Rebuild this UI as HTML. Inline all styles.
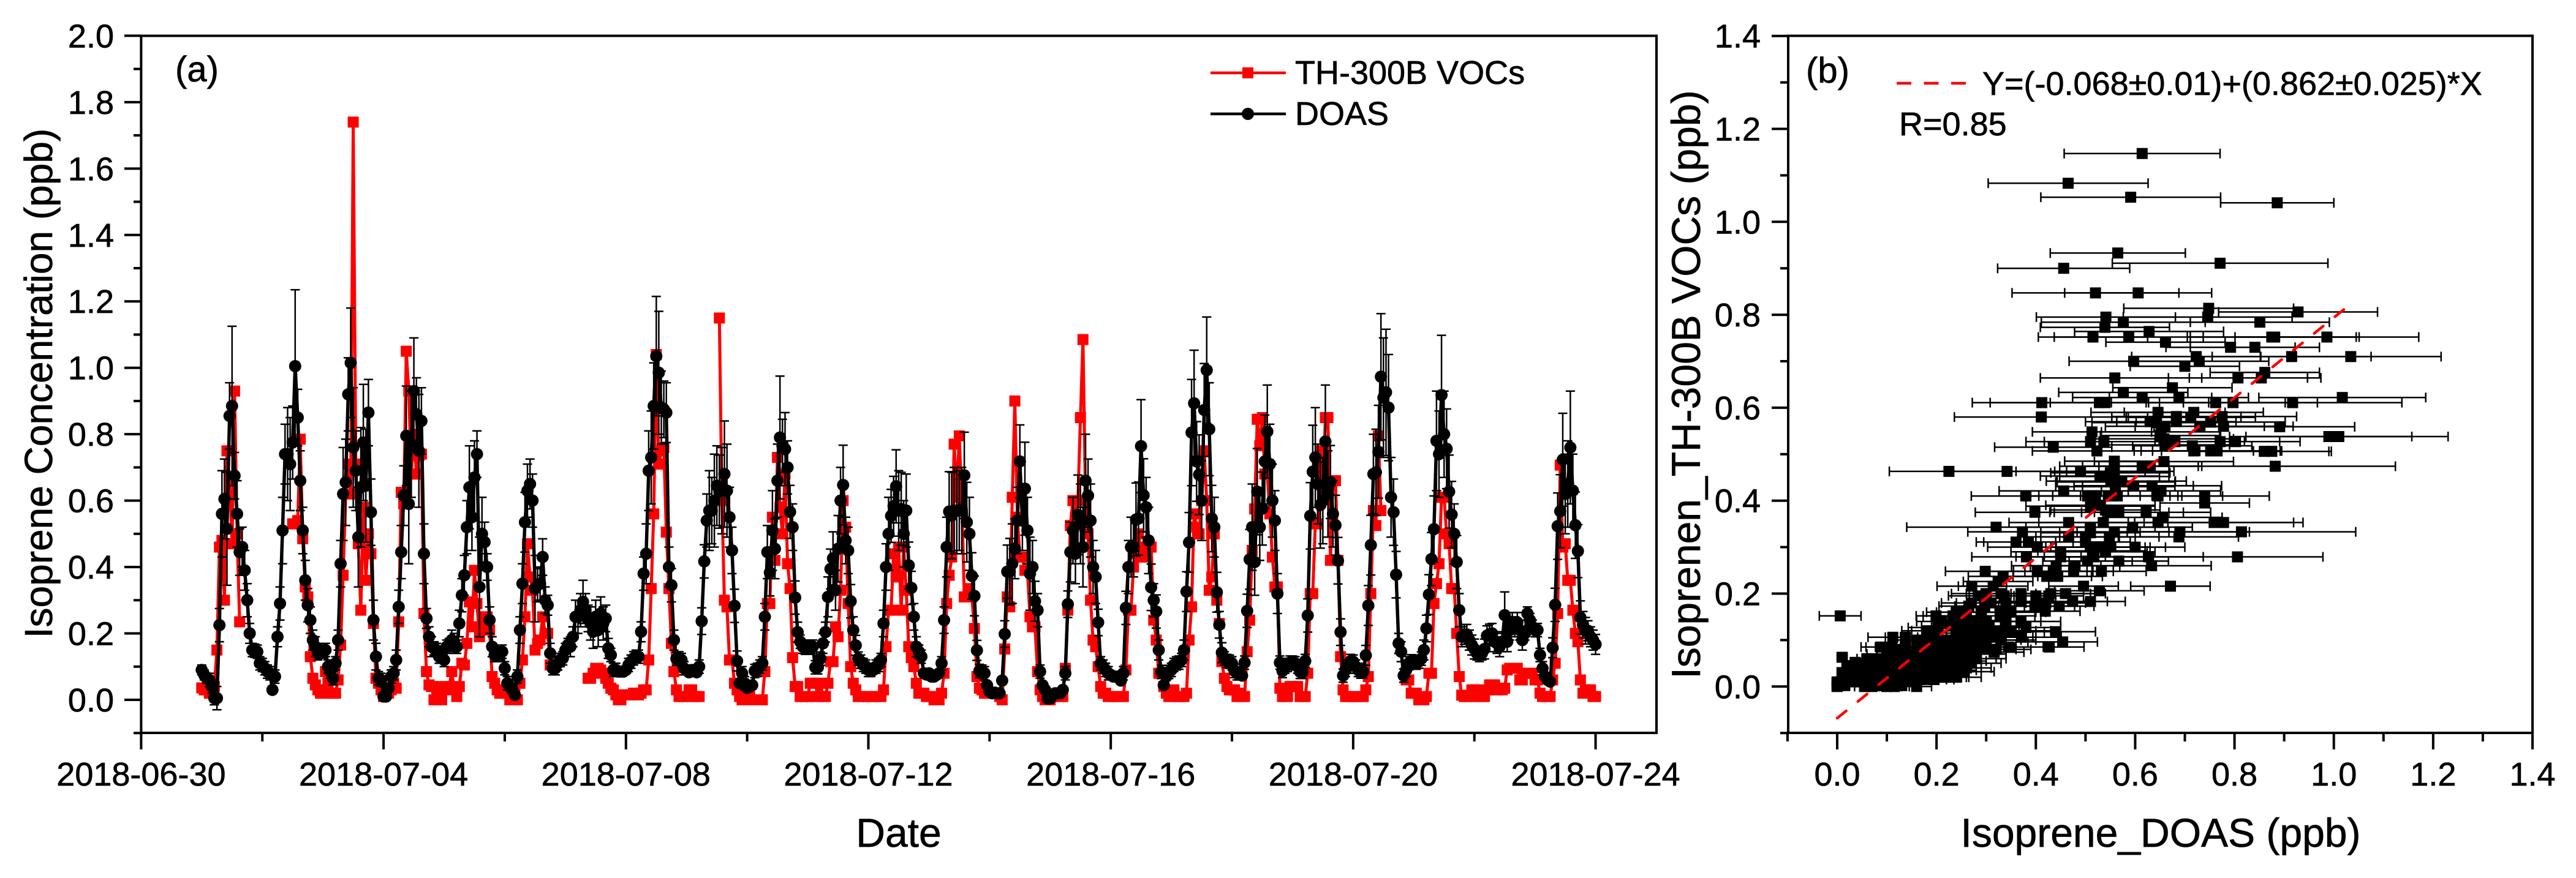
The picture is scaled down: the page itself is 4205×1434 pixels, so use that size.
<!DOCTYPE html>
<html>
<head>
<meta charset="utf-8">
<title>Isoprene comparison</title>
<style>
html,body{margin:0;padding:0;background:#fff}
svg{display:block}
text{font-family:"Liberation Sans",sans-serif;fill:#000;stroke:#000;stroke-width:0.7px}
.tick{font-size:54px}
.title{font-size:66px}
.note{font-size:54px}
</style>
</head>
<body>
<svg id="figure" xmlns="http://www.w3.org/2000/svg" width="4205" height="1434" viewBox="0 0 4205 1434">
<g id="panel-a">
  <rect x="230.4" y="58.5" width="2473.6" height="1138.5" fill="#fff"/>
  <g id="a-red"></g>
  <g id="a-black"></g>
  <rect x="230.4" y="58.5" width="2473.6" height="1138.5" fill="none" stroke="#000" stroke-width="4"/>
  <g id="a-ticks"></g>
  <text x="286" y="133" style="font-size:58px">(a)</text>
  <text x="1467" y="1383" class="title" text-anchor="middle">Date</text>
  <text transform="translate(85,626) rotate(-90)" text-anchor="middle" style="font-size:64px">Isoprene Concentration (ppb)</text>
  <g>
    <line x1="1976" y1="119" x2="2099" y2="119" stroke="#f00" stroke-width="4.5"/>
    <rect x="2028" y="110" width="18" height="18" fill="#f00"/>
    <text x="2114" y="137" class="note">TH-300B VOCs</text>
    <line x1="1976" y1="186" x2="2099" y2="186" stroke="#000" stroke-width="4.5"/>
    <circle cx="2037" cy="186" r="10" fill="#000"/>
    <text x="2114" y="204" class="note">DOAS</text>
  </g>
</g>
<g id="panel-b">
  <g id="b-errors"></g>
  <g id="b-points"></g>
  <line id="fit-line" stroke="#f00" stroke-width="4.5" stroke-linecap="round" stroke-dasharray="19 24.5"/>
  <rect x="2919" y="58.5" width="1215" height="1138.5" fill="none" stroke="#000" stroke-width="4"/>
  <g id="b-ticks"></g>
  <text x="2948" y="135" style="font-size:58px">(b)</text>
  <line x1="3096" y1="136" x2="3209" y2="136" stroke="#f00" stroke-width="4.5" stroke-dasharray="24 20.5"/>
  <text x="3236" y="155" class="note">Y=(-0.068±0.01)+(0.862±0.025)*X</text>
  <text x="3100" y="221" class="note">R=0.85</text>
  <text x="3527" y="1383" class="title" text-anchor="middle">Isoprene_DOAS (ppb)</text>
  <text transform="translate(2775,628) rotate(-90)" class="title" text-anchor="middle">Isoprenen_TH-300B VOCs (ppb)</text>
</g>
</svg>
<script>
const doasValues = [
.09,.075,.065,.06,.04,.005,.005,.225,.56,.605,.515,.855,.885,.675,.56,.445,.46,.39,.30,.20,.15,.148,.145,.11,
.105,.095,.085,.08,.03,.07,.19,.29,.51,.74,.74,.71,.775,1.005,.85,.66,.51,.36,.285,.24,.18,.16,.14,.15,
.145,.15,.10,.085,.065,.11,.18,.41,.62,.655,.92,1.015,.76,.69,.49,.64,.775,.645,.865,.565,.24,.13,.065,.06,
.01,.01,.035,.07,.08,.12,.28,.445,.615,.795,.59,.77,.93,.86,.75,.84,.44,.245,.19,.16,.155,.15,.13,.135,
.12,.16,.165,.18,.17,.16,.23,.315,.375,.52,.64,.55,.67,.74,.34,.50,.475,.40,.24,.16,.135,.135,.14,.145,
.095,.05,.04,.03,.015,.07,.21,.35,.535,.63,.65,.60,.335,.345,.35,.43,.30,.285,.14,.095,.095,.11,.12,.125,
.15,.165,.16,.19,.25,.25,.27,.295,.27,.245,.23,.205,.25,.21,.26,.23,.245,.155,.135,.09,.09,.085,.085,.085,
.09,.105,.115,.125,.13,.13,.205,.38,.44,.69,.73,.885,1.035,.985,.88,.875,.865,.40,.345,.18,.124,.125,.12,.095,
.09,.083,.09,.09,.083,.10,.237,.417,.54,.57,.57,.60,.645,.627,.63,.68,.63,.55,.45,.283,.117,.05,.08,.05,
.036,.04,.044,.087,.09,.10,.11,.25,.445,.383,.51,.455,.66,.79,.765,.755,.70,.566,.52,.308,.204,.175,.16,.157,
.157,.16,.16,.098,.098,.124,.17,.204,.31,.394,.426,.33,.455,.60,.647,.48,.45,.297,.21,.164,.124,.115,.105,.10,
.09,.09,.09,.10,.105,.12,.23,.40,.50,.554,.583,.643,.57,.575,.50,.57,.405,.337,.25,.16,.145,.13,.08,.076,
.08,.07,.07,.075,.08,.11,.24,.46,.567,.555,.57,.57,.57,.57,.676,.535,.50,.373,.313,.149,.087,.085,.08,.044,
.025,.02,.022,.02,.02,.058,.198,.386,.386,.41,.455,.54,.718,.54,.636,.51,.38,.40,.297,.27,.085,.044,.03,.004,
.004,.014,.02,.02,.02,.03,.08,.288,.445,.51,.44,.557,.53,.46,.66,.615,.54,.40,.37,.233,.11,.10,.09,.08,
.075,.07,.07,.07,.058,.08,.277,.40,.46,.46,.543,.546,.764,.616,.58,.48,.339,.30,.266,.15,.084,.044,.07,.084,
.09,.105,.11,.112,.12,.15,.326,.474,.805,.893,.718,.678,.60,.873,.993,.815,.546,.52,.324,.226,.142,.125,.117,.115,
.11,.087,.08,.08,.073,.112,.268,.423,.52,.415,.627,.52,.576,.718,.808,.71,.60,.54,.32,.112,.087,.10,.105,.112,
.112,.11,.10,.084,.084,.117,.254,.554,.687,.73,.65,.587,.60,.778,.62,.656,.56,.526,.419,.204,.073,.09,.10,.117,
.115,.10,.09,.085,.085,.134,.284,.466,.68,.685,.747,.973,.91,.926,.88,.61,.565,.377,.17,.145,.073,.09,.11,.116,
.115,.112,.115,.124,.15,.215,.317,.424,.514,.78,.74,.918,.80,.756,.627,.558,.50,.415,.27,.19,.197,.197,.18,.165,
.153,.14,.135,.14,.153,.193,.198,.20,.175,.17,.16,.175,.255,.175,.21,.233,.22,.233,.21,.18,.20,.26,.24,.22,
.21,.21,.135,.095,.07,.06,.055,.157,.286,.523,.568,.723,.62,.65,.76,.63,.526,.448,.248,.226,.208,.208,.19,.18,
.167];

const doasErrors = [
.015,.015,.015,.02,.02,.02,.035,.05,.13,.12,.17,.10,.24,.07,.10,.07,.06,.06,.05,.03,.02,.02,.02,.02,
.02,.02,.02,.02,.01,.02,.03,.05,.10,.09,.14,.14,.11,.23,.085,.09,.07,.06,.05,.04,.03,.03,.02,.02,
.02,.02,.02,.02,.02,.02,.03,.07,.14,.13,.11,.165,.18,.12,.15,.18,.175,.17,.10,.10,.06,.04,.02,.02,
.01,.01,.01,.02,.02,.03,.05,.08,.09,.15,.18,.16,.16,.11,.17,.10,.09,.03,.03,.03,.02,.02,.02,.02,
.02,.02,.02,.03,.03,.02,.04,.05,.06,.08,.125,.10,.11,.07,.15,.11,.06,.04,.04,.03,.02,.02,.02,.02,
.02,.02,.01,.01,.01,.02,.04,.06,.09,.08,.075,.08,.10,.05,.05,.055,.04,.03,.03,.02,.02,.02,.02,.02,
.02,.02,.03,.03,.05,.05,.05,.065,.05,.04,.05,.05,.05,.05,.05,.05,.04,.03,.02,.02,.02,.01,.01,.01,
.01,.02,.02,.02,.02,.02,.03,.05,.09,.12,.14,.13,.18,.185,.11,.085,.09,.06,.05,.03,.02,.02,.02,.02,
.01,.01,.01,.01,.01,.02,.04,.05,.08,.12,.10,.14,.12,.11,.13,.16,.14,.09,.07,.05,.03,.01,.02,.02,
.01,.01,.01,.02,.02,.02,.02,.04,.08,.07,.12,.09,.11,.185,.08,.11,.08,.08,.07,.05,.03,.02,.02,.02,
.02,.02,.02,.02,.02,.02,.03,.03,.06,.06,.08,.06,.10,.10,.12,.07,.07,.05,.04,.03,.02,.02,.02,.02,
.02,.02,.01,.02,.02,.02,.04,.07,.11,.08,.09,.11,.12,.11,.10,.11,.07,.05,.04,.03,.02,.02,.01,.01,
.01,.01,.01,.01,.01,.02,.04,.09,.12,.13,.13,.13,.12,.13,.13,.12,.11,.07,.06,.03,.02,.02,.02,.01,
.01,.01,.01,.01,.01,.01,.04,.08,.10,.12,.09,.10,.11,.09,.14,.10,.11,.08,.06,.05,.02,.01,.01,.01,
.01,.01,.01,.01,.01,.01,.02,.04,.09,.10,.09,.12,.12,.12,.14,.11,.11,.08,.08,.04,.02,.02,.02,.02,
.01,.01,.01,.01,.01,.02,.05,.08,.09,.09,.11,.11,.14,.11,.09,.10,.07,.05,.05,.03,.02,.01,.01,.02,
.02,.02,.02,.02,.02,.03,.06,.09,.16,.16,.12,.12,.12,.14,.16,.14,.10,.09,.06,.04,.03,.02,.02,.02,
.02,.02,.02,.02,.01,.02,.05,.09,.13,.10,.13,.10,.11,.14,.14,.12,.11,.09,.06,.02,.02,.02,.02,.02,
.02,.02,.02,.02,.02,.02,.05,.10,.14,.15,.12,.13,.13,.17,.13,.11,.10,.09,.07,.04,.02,.02,.02,.02,
.02,.02,.02,.02,.02,.03,.06,.09,.12,.13,.14,.19,.18,.19,.16,.12,.10,.07,.03,.03,.02,.02,.02,.02,
.02,.02,.02,.02,.03,.04,.06,.08,.10,.15,.13,.18,.13,.12,.11,.10,.09,.08,.05,.03,.03,.03,.03,.03,
.03,.02,.02,.02,.03,.03,.03,.03,.03,.03,.03,.03,.07,.03,.03,.03,.03,.03,.03,.03,.02,.02,.02,.02,
.02,.02,.02,.02,.01,.01,.01,.03,.05,.10,.11,.14,.12,.13,.17,.11,.10,.08,.05,.04,.04,.03,.03,.03,
.03];

const thValues = [
.036,.03,.03,.02,.03,.04,.15,.46,.48,.30,.75,.66,.47,.93,.50,.235,null,null,null,null,null,null,null,null,
null,null,null,null,null,null,null,null,null,null,null,null,.53,.53,.54,.785,.485,.34,.31,.13,.065,.045,.03,.02,
.02,.085,.05,.02,.02,.02,.06,.165,.375,.62,.71,.62,1.74,.71,.47,.27,.58,.36,.5,.44,.23,.065,.05,.03,
.01,.02,.02,.03,.05,.035,.235,.625,.59,1.05,.93,.68,.8,.68,.735,.74,.26,.085,.045,.04,.0,.04,.02,.0,
.03,.04,.04,.085,.03,.01,.04,.11,.105,.17,.295,.22,.39,.29,.19,.22,.25,.25,.21,.07,.05,.03,.02,.02,
.02,.02,.0,0,0,0,.05,.12,.25,.47,.37,.33,.15,.17,.18,.25,.2,.2,.105,null,null,null,null,null,
null,null,null,null,null,null,null,null,null,.065,.065,.08,.095,.095,.09,.08,.065,.05,.035,.03,.015,0,0,.015,
.015,.015,.015,.02,.02,.015,.02,.03,.03,.12,.335,.56,1.04,.71,.75,.76,.505,.335,.17,.085,.03,.01,.01,.01,
.01,.03,.03,.01,.01,.01,null,null,null,null,null,null,null,1.15,.6,.30,.28,.12,.12,.05,.03,.01,0,0,
0,.01,0,0,0,0,0,.085,.29,.29,.55,.42,.73,.58,.5,.68,.41,.335,.127,.04,.04,.01,.01,.01,
.01,.05,.05,.05,.01,.05,.01,.01,.05,.115,.115,.22,.19,.33,.60,.52,.29,.10,.05,.03,.01,.01,.01,.01,
.01,.01,.01,.01,.01,.01,.03,.16,.27,.27,.44,.37,.46,.27,.46,.33,.16,.127,.1,.05,.02,.02,.02,.01,
.01,.01,0,0,0,.02,.08,.29,.375,.43,.77,.61,.795,.6,.31,.31,.335,.31,.215,.07,.035,.03,.02,.02,
.02,.02,.02,.02,.01,0,.153,.31,.28,.61,.90,.55,.43,.43,.39,.39,.25,.22,.22,.085,.03,.01,0,0,
0,.01,.01,.01,.01,.01,.095,.27,.525,.6,.55,.6,.85,1.085,.6,.5,.30,.18,.16,.1,.04,.02,.02,.01,
.01,.01,.01,.01,.01,.01,.09,.27,.27,.4,.44,.5,.43,.46,.43,.46,.46,.24,.18,.08,.08,.04,.02,.01,
.01,.03,.01,.01,.01,.01,.02,.18,.28,.56,.52,.5,.6,.75,.6,.33,.37,.5,.3,.23,.115,.065,.04,.03,
.03,.03,.01,.02,.01,.01,.145,.24,.45,.575,.845,.765,.85,.68,.68,.56,.43,.34,.34,.035,.01,.01,.01,.04,
.04,.04,.04,.01,.01,.01,.08,.32,.32,.53,.53,.75,.62,.85,.85,.42,.66,.66,.42,.13,.03,.01,.01,.01,
.01,.01,.01,.01,.01,.03,.07,.32,.57,.525,.795,.57,null,null,null,null,null,null,null,null,null,.06,.06,.02,
.02,.02,0,0,0,.01,.08,.08,.29,.35,.41,.61,.61,.5,.47,.335,.335,.2,.07,.014,.01,.01,.01,.03,
.03,.03,.01,.01,.01,.03,.045,.045,.045,.03,.035,.03,.035,.09,.095,.095,.095,.095,.06,.06,.08,.08,.08,.08,
.06,.06,.02,.01,.01,.01,.01,.06,.11,.26,.707,.46,.47,.36,.36,.27,.2,.175,.06,.02,.03,.03,.03,.01,
.01];

const scatterX = [
.614,.465,.591,.886,.565,.771,.456,.52,.606,.748,
.928,.746,.541,.576,.851,.539,.515,.587,.875,.881,
.986,.628,.661,.792,.841,.723,.915,1.034,.729,.597,
.70,.559,.807,.854,.861,.576,.675,.614,.688,1.017,
.412,.528,.539,.762,.797,.917,.411,.646,.718,.683,
.775,.712,.643,.683,.752,.778,.73,.891,.513,.652,
.99,1.01,.658,.51,.537,.68,.771,.802,.435,.715,
.523,.718,.752,.765,.86,.875,.558,.614,.627,.658,
.882,.558,.558,.225,.342,.49,.529,.558,.551,.573,
.597,.634,.652,.456,.38,.504,.52,.546,.564,.646,
.74,.74,.51,.398,.548,.567,.622,.655,.536,.466,
.32,.51,.646,.595,.759,.778,.373,.558,.51,.69,
.688,.814,.466,.5,.548,.36,.385,.403,.5,.551,
.514,.6,.45,.381,.45,.517,.567,.627,.806,.633,
.504,.479,.441,.298,.403,.435,.476,.532,.334,.422,
.444,.671,.271,.314,.324,.528,.496,.284,.336,.40,
.426,.265,.297,.37,.398,.419,.447,.474,.51,.199,
.233,.006,.269,.203,.328,.306,.347,.38,.44,.112,
.137,.314,.371,.454,.427,.345,.088,.108,.137,.18,
.316,.01,.036,.256,.14,.16,.18,.20,.22,.24,
.26,.28,.30,.26,.24,.22,.28,.25,.23,.27,
.03,.05,.07,.09,.11,.13,.15,.17,.19,.21,
.23,.25,.27,.01,.03,.05,.07,.09,.11,.13,
.15,.17,.19,.21,.23,.0,.015,.03,.045,.06,
.075,.09,.105,.12,.135,.15,.165,.18,.195,.21,
.225,.0,.015,.055,.07,.085,.10,.115,.13,.16,
.10,.12,
.02,.04,.06,.08,.10,.12,.14,.16,.18,.20,.22,.24,
.02,.04,.06,.08,.10,.12,.14,.16,.18,.20,.22,.24,.26,
.06,.08,.10,.12,.14,.16,.18,.20,.22,.24,.26,.28,
.12,.16,.20,.22,.24,.26,.28,.30,.32,
.16,.18,.20,.24,.26,.28,.30,.33,
.18,.20,.24,.26,.29,.31,.33,.35,
.21,.25,.28,.30,.34,.37,
.24,.26,.29,.33,.35,
.27,.31,.34,.42,
.30,.33,.37,.43,.46,
.63,.66,.65,.66,.55,.56,.56,.53,.54,.52,.53,.54];

const scatterY = [
1.147,1.083,1.053,1.041,.933,.911,.90,.847,.847,.814,
.806,.795,.795,.784,.784,.773,.752,.752,.752,.752,
.752,.764,.741,.73,.73,.71,.71,.71,.70,.70,
.689,.664,.664,.664,.676,.633,.643,.622,.622,.622,
.611,.611,.611,.611,.611,.611,.58,.59,.59,.581,
.581,.579,.568,.57,.569,.56,.56,.559,.548,.548,
.538,.538,.533,.527,.527,.527,.527,.527,.515,.518,
.507,.507,.507,.507,.506,.506,.485,.474,.474,.484,
.474,.474,.463,.463,.463,.463,.453,.452,.442,.442,
.432,.432,.421,.421,.41,.41,.41,.41,.41,.41,
.41,.395,.388,.375,.375,.375,.375,.364,.353,.353,
.343,.343,.353,.343,.353,.353,.333,.333,.331,.333,
.322,.333,.322,.322,.322,.311,.311,.30,.311,.30,
.292,.30,.29,.279,.279,.279,.27,.279,.279,.26,
.27,.26,.26,.248,.248,.248,.248,.248,.237,.237,
.237,.216,.216,.216,.226,.206,.216,.195,.195,.195,
.195,.173,.173,.183,.173,.162,.173,.183,.183,.152,
.152,.152,.142,.127,.152,.129,.118,.127,.118,.106,
.106,.106,.106,.096,.085,.085,.085,.085,.085,.085,
.074,.063,.052,.032,.07,.07,.07,.07,.07,.07,
.07,.07,.09,.09,.09,.1,.11,.115,.13,.125,
.045,.05,.05,.055,.055,.055,.055,.055,.055,.055,
.055,.055,.05,.03,.03,.03,.03,.03,.03,.035,
.03,.035,.035,.035,.035,.01,.01,.01,.01,.01,
.01,.015,.01,.01,.015,.015,.015,.015,.015,.02,
.02,.0,.002,.0,.0,.002,.0,.0,.002,.0,
.07,.07,
.02,.02,.02,.02,.02,.02,.02,.02,.02,.02,.02,.02,
.04,.04,.04,.04,.04,.04,.04,.04,.04,.04,.04,.04,.04,
.06,.06,.06,.06,.06,.06,.06,.06,.06,.06,.06,.06,
.08,.08,.08,.08,.08,.08,.08,.08,.08,
.10,.10,.10,.10,.10,.10,.10,.10,
.12,.12,.12,.12,.12,.12,.12,.12,
.14,.14,.14,.14,.14,.14,
.16,.16,.16,.16,.16,
.18,.18,.18,.18,
.20,.20,.20,.20,.20,
.57,.56,.54,.52,.46,.44,.43,.39,.38,.30,.30,.29];

const scatterXErr = [
.157,.161,.181,.114,.136,.217,.133,.168,.148,.171,
.16,.17,.14,.165,.14,.13,.11,.15,.17,.17,
.185,.15,.12,.13,.13,.13,.16,.182,.14,.13,
.11,.15,.14,.12,.11,.13,.12,.14,.14,.168,
.14,.22,.11,.14,.17,.22,.175,.135,.14,.13,
.15,.13,.13,.12,.15,.14,.13,.151,.12,.12,
.167,.22,.14,.13,.12,.14,.12,.13,.118,.12,
.13,.12,.14,.13,.13,.12,.10,.12,.10,.14,
.242,.11,.12,.12,.12,.13,.12,.11,.13,.13,
.12,.14,.12,.13,.11,.13,.15,.14,.13,.13,
.13,.09,.13,.12,.12,.13,.13,.12,.13,.12,
.18,.13,.12,.12,.16,.16,.11,.11,.10,.14,
.12,.23,.10,.10,.10,.08,.09,.10,.09,.11,
.11,.10,.10,.11,.09,.10,.10,.11,.172,.12,
.09,.09,.09,.08,.10,.08,.08,.09,.07,.09,
.09,.08,.07,.07,.07,.09,.07,.06,.07,.07,
.07,.06,.06,.07,.08,.07,.07,.07,.07,.04,
.06,.042,.06,.06,.07,.06,.07,.07,.08,.05,
.04,.08,.08,.07,.07,.07,.04,.05,.06,.05,
.06,.01,.02,.06,.04,.04,.05,.05,.05,.05,
.06,.06,.06,.06,.06,.06,.06,.07,.06,.06,
.02,.02,.03,.03,.04,.04,.04,.04,.05,.05,
.05,.05,.06,.01,.02,.02,.03,.03,.03,.03,
.04,.04,.04,.05,.05,.01,.01,.02,.02,.02,
.02,.03,.03,.03,.03,.03,.03,.04,.04,.04,
.04,.01,.01,.02,.02,.02,.02,.03,.03,.03,
.04,.04,
.01,.02,.02,.02,.03,.03,.03,.03,.04,.04,.04,.05,
.01,.02,.02,.03,.03,.03,.03,.04,.04,.04,.05,.05,.05,
.02,.03,.03,.03,.04,.04,.04,.05,.05,.05,.06,.06,
.04,.04,.05,.05,.05,.06,.06,.06,.07,
.04,.05,.05,.06,.06,.06,.07,.07,
.05,.05,.06,.06,.06,.07,.07,.08,
.05,.06,.06,.07,.07,.08,
.06,.06,.06,.07,.07,
.06,.07,.07,.08,
.07,.07,.08,.08,.08,
.13,.12,.12,.13,.12,.12,.12,.11,.11,.10,.10,.10];

const fitIntercept = -0.068;
const fitSlope = 0.862;
const fitRange = [0, 1.02];

const aYMajorLabels = ["0.0","0.2","0.4","0.6","0.8","1.0","1.2","1.4","1.6","1.8","2.0"];
const aYMinorTicks = [-0.1,0.1,0.3,0.5,0.7,0.9,1.1,1.3,1.5,1.7,1.9];
const aXMajorDays = [0,4,8,12,16,20,24];
const aXMajorLabels = ["2018-06-30","2018-07-04","2018-07-08","2018-07-12","2018-07-16","2018-07-20","2018-07-24"];
const aXMinorDays = [2,6,10,14,18,22];
const bMajorLabels = ["0.0","0.2","0.4","0.6","0.8","1.0","1.2","1.4"];
const bMinorTicks = [-0.1,0.1,0.3,0.5,0.7,0.9,1.1,1.3];

const SVGNS = "http://www.w3.org/2000/svg";
function xA(day){ return 230.4 + (day / 25) * 2473.1; }
function yA(v){ return 1143 - v * 542.3; }
function xB(v){ return 2999 + v * 810.7; }
function yB(v){ return 1121.3 - v * 759; }
function hourToDay(i){ return 1 + i / 24; }
function el(tag, attrs, parent){
  const n = document.createElementNS(SVGNS, tag);
  for (const k in attrs) n.setAttribute(k, attrs[k]);
  parent.appendChild(n);
  return n;
}
function seriesPath(values){
  let d = "", pen = false;
  values.forEach(function(v, i){
    if (v === null || v === undefined) { pen = false; return; }
    d += (pen ? "L" : "M") + xA(hourToDay(i)).toFixed(1) + " " + yA(v).toFixed(1);
    pen = true;
  });
  return d;
}

const redG = document.getElementById("a-red");
const thLine = el("path", {d: seriesPath(thValues), fill: "none", stroke: "#f00", "stroke-width": 5, "stroke-linejoin": "round"}, redG);


thValues.forEach(function(v, i){
  if (v === null) return;
  const s = el("rect", {x: (xA(hourToDay(i)) - 9).toFixed(1), y: (yA(v) - 9).toFixed(1), width: 18, height: 18, fill: "#f00"}, redG);
  
  
});

const blackG = document.getElementById("a-black");
doasValues.forEach(function(v, i){
  const e = doasErrors[i];
  const cx = xA(hourToDay(i)), t = yA(v + e), b = yA(v - e);
  const d = "M" + cx.toFixed(1) + " " + t.toFixed(1) + "V" + b.toFixed(1) +
            "M" + (cx - 7.5).toFixed(1) + " " + t.toFixed(1) + "h15" +
            "M" + (cx - 7.5).toFixed(1) + " " + b.toFixed(1) + "h15";
  const p = el("path", {d: d, fill: "none", stroke: "#000", "stroke-width": 2.5}, blackG);
  
  
});
const doasLine = el("path", {d: seriesPath(doasValues), fill: "none", stroke: "#000", "stroke-width": 5.5, "stroke-linejoin": "round"}, blackG);


doasValues.forEach(function(v, i){
  const c = el("circle", {cx: xA(hourToDay(i)).toFixed(1), cy: yA(v).toFixed(1), r: 10, fill: "#000"}, blackG);
  
  
});

const aTicks = document.getElementById("a-ticks");
aYMajorLabels.forEach(function(lab){
  const y = yA(parseFloat(lab));
  const t = el("line", {x1: 203, x2: 230.4, y1: y, y2: y, stroke: "#000", "stroke-width": 4}, aTicks);
  
  
  const l = el("text", {x: 186, y: y + 19, "text-anchor": "end", "class": "tick"}, aTicks);
  l.textContent = lab;
  
  
});
aYMinorTicks.forEach(function(v){
  const y = yA(v);
  const t = el("line", {x1: 218, x2: 230.4, y1: y, y2: y, stroke: "#000", "stroke-width": 4}, aTicks);
  
  
});
aXMajorDays.forEach(function(d, i){
  const x = xA(d);
  const t = el("line", {x1: x, x2: x, y1: 1197, y2: 1224, stroke: "#000", "stroke-width": 4}, aTicks);
  
  
  const l = el("text", {x: x, y: 1283, "text-anchor": "middle", "class": "tick"}, aTicks);
  l.textContent = aXMajorLabels[i];
  
  
});
aXMinorDays.forEach(function(d){
  const x = xA(d);
  const t = el("line", {x1: x, x2: x, y1: 1197, y2: 1211, stroke: "#000", "stroke-width": 4}, aTicks);
  
  
});

const errG = document.getElementById("b-errors");
const ptG = document.getElementById("b-points");
scatterX.forEach(function(xv, i){
  const yv = scatterY[i], e = scatterXErr[i];
  const cy = yB(yv), l = xB(xv - e), r = xB(xv + e);
  const d = "M" + l.toFixed(1) + " " + cy.toFixed(1) + "H" + r.toFixed(1) +
            "M" + l.toFixed(1) + " " + (cy - 8).toFixed(1) + "v16" +
            "M" + r.toFixed(1) + " " + (cy - 8).toFixed(1) + "v16";
  const p = el("path", {d: d, fill: "none", stroke: "#000", "stroke-width": 2.5}, errG);
  
  
  const s = el("rect", {x: (xB(xv) - 9).toFixed(1), y: (cy - 9).toFixed(1), width: 18, height: 18, fill: "#000"}, ptG);
  
  
});

const fit = document.getElementById("fit-line");
fit.setAttribute("x1", xB(fitRange[0]));
fit.setAttribute("y1", yB(fitIntercept + fitSlope * fitRange[0]));
fit.setAttribute("x2", xB(fitRange[1]));
fit.setAttribute("y2", yB(fitIntercept + fitSlope * fitRange[1]));

const bTicks = document.getElementById("b-ticks");
bMajorLabels.forEach(function(lab){
  const v = parseFloat(lab), y = yB(v), x = xB(v);
  const ty = el("line", {x1: 2892, x2: 2919, y1: y, y2: y, stroke: "#000", "stroke-width": 4}, bTicks);
  
  
  const ly = el("text", {x: 2874, y: y + 19, "text-anchor": "end", "class": "tick"}, bTicks);
  ly.textContent = lab;
  
  
  const tx = el("line", {x1: x, x2: x, y1: 1197, y2: 1224, stroke: "#000", "stroke-width": 4}, bTicks);
  
  
  const lx = el("text", {x: x, y: 1283, "text-anchor": "middle", "class": "tick"}, bTicks);
  lx.textContent = lab;
  
  
});
bMinorTicks.forEach(function(v){
  const y = yB(v), x = xB(v);
  const ty = el("line", {x1: 2906, x2: 2919, y1: y, y2: y, stroke: "#000", "stroke-width": 4}, bTicks);
  
  
  const tx = el("line", {x1: x, x2: x, y1: 1197, y2: 1211, stroke: "#000", "stroke-width": 4}, bTicks);
  
  
});
</script>
</body>
</html>
